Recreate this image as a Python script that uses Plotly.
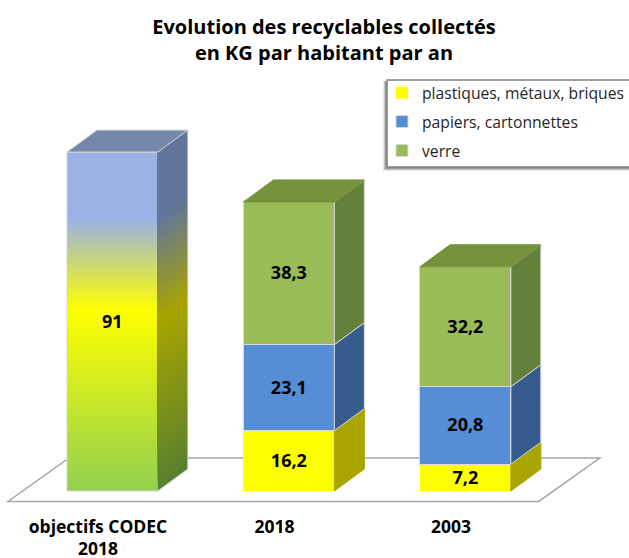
import plotly.graph_objects as go

# ---- data ----
categories = ["objectifs CODEC<br>2018", "2018", "2003"]
positions = [0, 1, 2]
objectif = [91]
plastiques = [16.2, 7.2]
papiers = [23.1, 20.8]
verre = [38.3, 32.2]
series_names = ["plastiques, métaux, briques", "papiers, cartonnettes", "verre"]

# ---- style ----
FONT = "Open Sans"
BAR_W = 0.515
BAR_OFF = -0.176
DX = 0.17
DY = 5.9
EDGE = "#d9d9d9"
FRONT = ["#ffff00", "#558ed5", "#9bbb59"]
SIDE = ["#a8a400", "#355c8c", "#65803b"]
TOP = "#76923c"
PLOT_H = 514
Y_SCALE = 3.725
X_SCALE = 176.5
LABEL_NUDGE = -0.4

def py(px):
    return (PLOT_H - px) / PLOT_H

def px_x(px):
    return px / 629

fig = go.Figure()

def left(c):
    return c + BAR_OFF

def right(c):
    return c + BAR_OFF + BAR_W

def poly(xs, ys, fill, line=EDGE, lw=1):
    fig.add_trace(go.Scatter(x=xs + xs[:1], y=ys + ys[:1], mode="lines", fill="toself",
                             fillcolor=fill, line=dict(color=line, width=lw),
                             hoverinfo="skip", showlegend=False))

# front faces as stacked bars
fig.add_trace(go.Bar(x=[positions[0]], y=objectif, width=BAR_W, offset=BAR_OFF,
                     marker=dict(color="#c8d86a", line=dict(width=0)),
                     showlegend=False, hoverinfo="y"))
for vals, name, col, lw in zip([plastiques, papiers, verre], series_names, FRONT, [0, 1, 1]):
    fig.add_trace(go.Bar(x=positions[1:], y=vals, name=name, legendgroup=name, width=BAR_W, offset=BAR_OFF,
                         marker=dict(color=col, line=dict(color=EDGE, width=lw))))

# gradient on target bar
grad_stops = [(0, "#92d050"), (0.534, "#ffff00"), (0.8, "#9ab3e4"), (1, "#9ab3e4")]
c0 = positions[0]
v = objectif[0]
fig.add_trace(go.Scatter(x=[left(c0), right(c0), right(c0), left(c0), left(c0)],
                         y=[0, 0, v, v, 0], mode="lines", fill="toself",
                         fillgradient=dict(type="vertical", colorscale=[[a, b] for a, b in grad_stops]),
                         line=dict(color=EDGE, width=1), hoverinfo="skip", showlegend=False))

# gradient on the target bar's side, painted bottom-up in overlapping slanted strips
side_stops = [(0, (0x58, 0x80, 0x30)), (0.5, (0xa8, 0xa4, 0x00)), (0.8, (0x62, 0x75, 0x9a)), (1, (0x62, 0x75, 0x9a))]

def blend(t):
    for (a, ca), (b, cb) in zip(side_stops, side_stops[1:]):
        if t <= b:
            f = (t - a) / (b - a)
            return "rgb(%d,%d,%d)" % tuple(round(p + (q - p) * f) for p, q in zip(ca, cb))
    return "rgb(98,117,154)"

N = 80
r = right(c0)
for i in range(N):
    a = v * i / N
    colr = blend((i + 0.5) / N)
    poly([r, r + DX, r + DX, r], [a, a + DY, v + DY, v], colr, line=colr, lw=0)
# outline of the target bar's side and top
fig.add_trace(go.Scatter(x=[r, r + DX, r + DX], y=[0, DY, v + DY], mode="lines",
                         line=dict(color=EDGE, width=1), hoverinfo="skip", showlegend=False))
poly([left(c0), r, r + DX, left(c0) + DX], [v, v, v + DY, v + DY], "#7388ab")

# sides and tops of stacks
for k, c in enumerate(positions[1:]):
    base = 0
    rr = right(c)
    for vals, scol, lc in zip([plastiques, papiers, verre], SIDE, [None, EDGE, EDGE]):
        t = base + vals[k]
        poly([rr, rr + DX, rr + DX, rr], [base, base + DY, t + DY, t], scol, line=lc or scol)
        base = t
    poly([left(c), rr, rr + DX, left(c) + DX], [base, base, base + DY, base + DY], TOP, line=TOP)

# value labels
lab_x, lab_y, lab_t = [positions[0] + BAR_OFF + BAR_W / 2], [objectif[0] / 2 + LABEL_NUDGE], [str(objectif[0])]
for k, c in enumerate(positions[1:]):
    base = 0
    for vals in [plastiques, papiers, verre]:
        lab_x.append(c + BAR_OFF + BAR_W / 2)
        lab_y.append(base + vals[k] / 2 + LABEL_NUDGE)
        lab_t.append(str(vals[k]).replace(".", ","))
        base += vals[k]
fig.add_trace(go.Scatter(x=lab_x, y=lab_y, text=lab_t, mode="text", textposition="middle center",
                         textfont=dict(family=FONT, size=18, color="black", weight="bold"),
                         hoverinfo="skip", showlegend=False))

# floor and legend frame
FX = [-0.51, 2.497, 2.843, -0.164]
FY = [-2.8, -2.8, 8.86, 8.86]
floor = "M " + " L ".join(f"{x},{y}" for x, y in zip(FX, FY)) + " Z"
shapes = [dict(type="path", path=floor, xref="x", yref="y", layer="below",
               fillcolor="white", line=dict(color="#a6a6a6", width=1.5))]
for off, op in [(4, 0.12), (3, 0.2), (2, 0.3)]:
    shapes.append(dict(type="rect", xref="paper", yref="paper", layer="below",
                       x0=px_x(387 - off), x1=1.02, y0=py(167 + off), y1=py(81),
                       fillcolor=f"rgba(60,60,60,{op})", line=dict(width=0)))
shapes.append(dict(type="rect", xref="paper", yref="paper", layer="below",
                   x0=px_x(387), x1=1.02, y0=py(167), y1=py(80),
                   fillcolor="white", line=dict(color="#7f7f7f", width=1.5)))

fig.update_layout(
    width=629, height=558, autosize=False,
    margin=dict(l=0, r=0, t=0, b=558 - PLOT_H, autoexpand=False),
    paper_bgcolor="white", plot_bgcolor="rgba(0,0,0,0)",
    barmode="stack", shapes=shapes,
    title=dict(text="<b>Evolution des recyclables collectés<br>en KG par habitant par an</b>",
               x=324 / 629, xanchor="center", y=1 - 34 / 558, yanchor="middle",
               font=dict(family=FONT, size=20, color="black")),
    xaxis=dict(range=[-98 / X_SCALE, (629 - 98) / X_SCALE], tickmode="array", tickvals=positions,
               ticktext=[f"<b>{t}</b>" for t in categories], ticks="", showgrid=False, zeroline=False,
               showline=False, fixedrange=True, automargin=False,
               tickfont=dict(family=FONT, size=17.5, color="black")),
    yaxis=dict(range=[(491 - PLOT_H) / Y_SCALE, 491 / Y_SCALE], visible=False, fixedrange=True),
    legend=dict(x=px_x(382), xanchor="left", y=py(76), yanchor="top", bgcolor="rgba(0,0,0,0)",
                borderwidth=0, tracegroupgap=5.5, traceorder="grouped",
                font=dict(family=FONT, size=15.7, color="#262626")),
)

fig.write_html("out.html", config=dict(displayModeBar=False),
               post_script="document.body.style.margin='0';document.body.style.overflow='hidden';")
